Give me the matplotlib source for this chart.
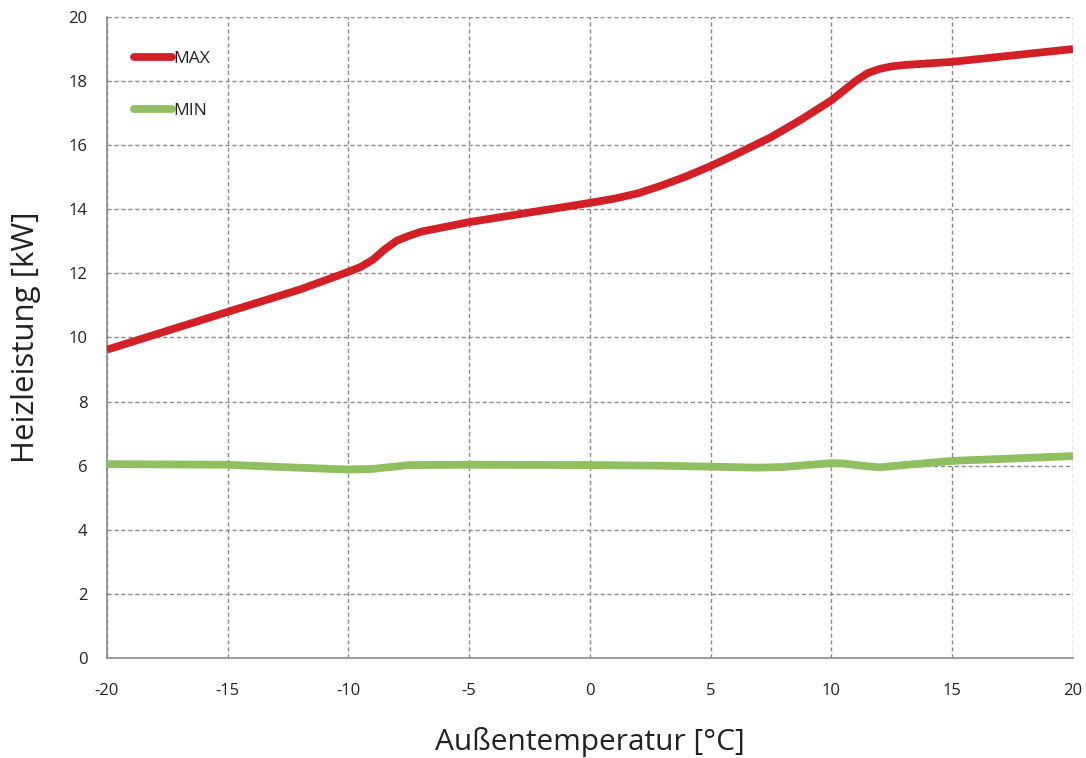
import matplotlib
matplotlib.use("Agg")
import matplotlib.pyplot as plt

plt.rcParams['font.family'] = ['Open Sans', 'DejaVu Sans']

# Data
temp_max = [-20, -15, -12, -10, -9.5, -9, -8.5, -8, -7.5, -7, -6, -5, -2.5, 0, 1, 2, 3, 4, 5, 6, 7.5, 8.75, 10, 10.5, 11, 11.5, 12, 12.5, 13, 15, 20]
heat_max = [9.62, 10.8, 11.5, 12.05, 12.2, 12.42, 12.75, 13.02, 13.17, 13.3, 13.45, 13.6, 13.9, 14.2, 14.33, 14.5, 14.75, 15.03, 15.35, 15.7, 16.25, 16.8, 17.4, 17.7, 18.0, 18.25, 18.38, 18.46, 18.5, 18.6, 19.0]

temp_min = [-20, -15, -12.5, -10, -9, -8, -7.5, -5, 0, 3, 5, 7, 8, 9, 10, 10.5, 11.25, 12, 13, 15, 20]
heat_min = [6.05, 6.03, 5.95, 5.88, 5.9, 5.98, 6.02, 6.03, 6.02, 6.0, 5.97, 5.94, 5.96, 6.02, 6.08, 6.07, 6.0, 5.95, 6.02, 6.15, 6.3]

x_ticks = [-20, -15, -10, -5, 0, 5, 10, 15, 20]
y_ticks = [0, 2, 4, 6, 8, 10, 12, 14, 16, 18, 20]

fig = plt.figure(figsize=(10.86, 7.58), dpi=100)
ax = fig.add_axes([0.0985, 0.1319, 0.8895, 0.8457])

ax.plot(temp_max, heat_max, color='#d32027', lw=5.6, solid_capstyle='butt',
        solid_joinstyle='round', label='MAX', zorder=3)
ax.plot(temp_min, heat_min, color='#8fbf60', lw=5.6, solid_capstyle='butt',
        solid_joinstyle='round', label='MIN', zorder=3)

ax.set_xlim(-20, 20)
ax.set_ylim(0, 20)
ax.set_xticks(x_ticks)
ax.set_yticks(y_ticks)
ax.set_xticklabels([str(v) for v in x_ticks])
ax.set_yticklabels([str(v) for v in y_ticks])
ax.tick_params(length=0, labelsize=12, colors='#222222')
ax.tick_params(axis='x', pad=18)
ax.tick_params(axis='y', pad=14)

ax.grid(True, color='#8a8a8a', linestyle=(0, (3, 2)), linewidth=1.0)
ax.set_axisbelow(True)
for side in ['top', 'right']:
    ax.spines[side].set_visible(False)
for side in ['left', 'bottom']:
    ax.spines[side].set_color('#8a8a8a')
    ax.spines[side].set_linewidth(1.2)

ax.set_xlabel('Außentemperatur [°C]', fontsize=21.5, color='#222222', labelpad=20)
ax.set_ylabel('Heizleistung [kW]', fontsize=22.5, color='#222222', labelpad=20)

leg = ax.legend(loc='upper left', bbox_to_anchor=(0.012, 0.972), frameon=False,
                fontsize=12.5, handlelength=2.2, handletextpad=0.05,
                labelspacing=2.1)
for t in leg.get_texts():
    t.set_color('#222222')
for h in leg.get_lines():
    h.set_solid_capstyle('round')

fig.savefig('out.png', dpi=100)
